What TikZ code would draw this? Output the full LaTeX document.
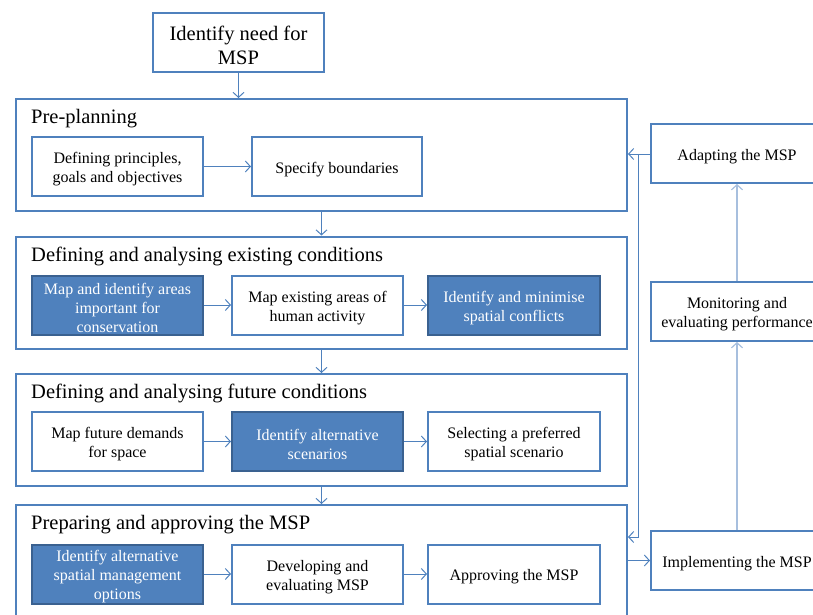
\documentclass[tikz,border=0pt]{standalone}
\usepackage{fontspec}
\setmainfont{Liberation Serif}
\usetikzlibrary{arrows.meta}
\definecolor{msblue}{HTML}{4F81BD}
\definecolor{msdark}{HTML}{3A6190}
\definecolor{mslight}{HTML}{A7BFDE}
% strut on the first line that sits the text block slightly below the box centre
\newcommand\fl{\rule{0pt}{17pt}}
\begin{document}
\begin{tikzpicture}[x=1pt,y=-1pt,
  phase/.style={draw=msblue, line width=2pt, anchor=north west, inner sep=0pt},
  task/.style={draw=msblue, line width=2pt, fill=white, minimum width=171pt,
    minimum height=59pt, align=center, inner sep=0pt,
    font=\fontsize{16}{19}\selectfont},
  keytask/.style={task, fill=msblue, draw=msdark, text=white},
  heading/.style={anchor=base west, inner sep=0pt,
    font=\fontsize{20.5}{24}\selectfont},
  flow/.style={draw=msblue, line width=1pt,
    -{Straight Barb[length=5pt,width=11pt]}},
  cycleflow/.style={draw=mslight, line width=2pt,
    -{Straight Barb[length=5pt,width=11pt,line width=1.2pt]}}]
\clip (0,0) rectangle (813,615);

% starting point
\node[task, font=\fontsize{20.5}{24}\selectfont] (need) at (238.5,42.5)
  {\rule{0pt}{19.5pt}Identify need for\\MSP};

% the four planning phases
\node[phase, minimum width=611pt, minimum height=112pt] (pre) at (15,98) {};
\node[phase, minimum width=611pt, minimum height=112pt] (exist) at (15,235.5) {};
\node[phase, minimum width=611pt, minimum height=112pt] (future) at (15,373) {};
\node[phase, minimum width=611pt, minimum height=140pt] (prep) at (15,504) {};

\node[heading] (preT) at (31,124) {Pre-planning};
\node[heading] (existT) at (31,261) {Defining and analysing existing conditions};
\node[heading] (futureT) at (31,398.5) {Defining and analysing future conditions};
\node[heading] (prepT) at (31,529.5) {Preparing and approving the MSP};

% tasks inside each phase
\node[task] (goals) at (117.5,166.5) {\fl Defining principles,\\goals and objectives};
\node[task, minimum width=170pt] (bounds) at (337,166.5) {\fl Specify boundaries};

\node[keytask] (conserv) at (117.5,305) {\fl Map and identify areas\\important for\\conservation};
\node[task] (human) at (317.5,305) {\fl Map existing areas of\\human activity};
\node[keytask, minimum width=172pt] (conflict) at (514,305) {\fl Identify and minimise\\spatial conflicts};

\node[task] (demand) at (117.5,441.5) {\fl Map future demands\\for space};
\node[keytask] (scen) at (317.5,441.5) {\fl Identify alternative\\scenarios};
\node[task, minimum width=172pt] (select) at (514,441.5) {\fl Selecting a preferred\\spatial scenario};

\node[keytask] (options) at (117.5,574) {\fl Identify alternative\\spatial management\\options};
\node[task] (develop) at (317.5,574) {\fl Developing and\\evaluating MSP};
\node[task, minimum width=172pt] (approve) at (514,574) {\fl Approving the MSP};

% implementation cycle
\node[task, minimum width=172pt] (adapt) at (737,153.5) {\fl Adapting the MSP};
\node[task, minimum width=172pt] (monitor) at (737,311.5) {\fl Monitoring and\\evaluating performance};
\node[task, minimum width=172pt] (impl) at (737,560.5) {\fl Implementing the MSP};

% connectors between phases
\draw[flow] (need.south) -- (need.south |- pre.north);
\draw[flow] (pre.south) -- (exist.north);
\draw[flow] (exist.south) -- (future.north);
\draw[flow] (future.south) -- (prep.north);

% connectors between tasks
\draw[flow] (goals.east) -- (bounds.west);
\draw[flow] (conserv.east) -- (human.west);
\draw[flow] (human.east) -- (conflict.west);
\draw[flow] (demand.east) -- (scen.west);
\draw[flow] (scen.east) -- (select.west);
\draw[flow] (options.east) -- (develop.west);
\draw[flow] (develop.east) -- (approve.west);

% feedback loop
\coordinate (split) at (638,154);
\coordinate (rejoin) at (638,537);
\draw[flow] (adapt.west |- split) -- (split -| pre.east);
\draw[flow] (split) -- (rejoin) -- (rejoin -| prep.east);
\draw[flow] (impl.west -| prep.east) -- (impl.west);
\draw[cycleflow] (impl.north) -- (monitor.south);
\draw[cycleflow] (monitor.north) -- (adapt.south);
\end{tikzpicture}
\end{document}
